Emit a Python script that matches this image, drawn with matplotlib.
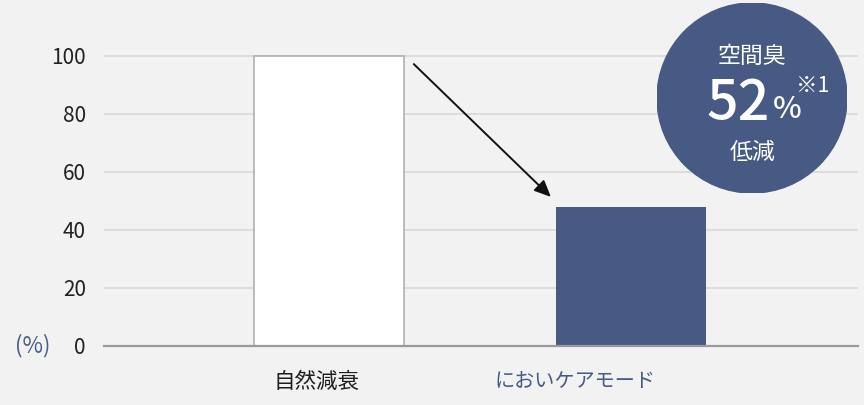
import matplotlib
matplotlib.use("Agg")
import matplotlib.pyplot as plt
from matplotlib.patches import Circle

plt.rcParams['font.family'] = ['Noto Sans CJK JP', 'DejaVu Sans']

categories = ['自然減衰', 'においケアモード']
values = [100, 48]
yticks = [0, 20, 40, 60, 80, 100]
badge_top = '空間臭'
badge_value = '52'
badge_unit = '%'
badge_note = '※1'
badge_bottom = '低減'

BG = '#f2f2f2'
NAVY = '#475a83'

fig = plt.figure(figsize=(8.64, 4.05), dpi=100, facecolor=BG)
ax = fig.add_axes([104/864, 59/405, 754/864, 346/405])
ax.set_facecolor(BG)

x = list(range(len(categories)))
ax.bar(x[0], values[0], width=0.497, color='white', edgecolor='#b0b0b0', linewidth=1.2, zorder=3)
ax.bar(x[1], values[1], width=0.497, color=NAVY, edgecolor=NAVY, linewidth=0, zorder=3)

ax.set_xlim(-0.745, 1.752)
ax.set_ylim(0, 119.3)
ax.set_yticks(yticks)
ax.set_yticklabels([str(t) for t in yticks], fontsize=15, color='#222222')
ax.tick_params(axis='y', length=0, pad=13)
ax.yaxis.grid(True, color='#d6d6d6', linewidth=1.1, zorder=0)
ax.set_axisbelow(True)
for s in ['top', 'right', 'left']:
    ax.spines[s].set_visible(False)
ax.spines['bottom'].set_color('#9a9a9a')
ax.spines['bottom'].set_linewidth(1.6)
ax.spines['bottom'].set_zorder(4)
ax.set_xticks([])

# category labels
label_colors = ['#1e1e1e', NAVY]
label_sizes = [15.5, 14.5]
label_x = [-0.04, 0.815]
for lx, lab, c, fs in zip(label_x, categories, label_colors, label_sizes):
    ax.text(lx, -12.4, lab, ha='center', va='center', fontsize=fs, color=c,
            transform=ax.transData, clip_on=False)

ax.text(-0.924, 0, '(%)', ha='right', va='center', fontsize=16, color='#4a5f8e', clip_on=False)

# arrow
ax.annotate('', xy=(0.735, 51.4), xytext=(0.281, 97.2),
            arrowprops=dict(arrowstyle='-|>,head_length=1.0,head_width=0.45', color='#111111',
                            linewidth=1.4, shrinkA=0, shrinkB=0), zorder=5)

# badge
cx, cy, r = 752, 98, 95
bax = fig.add_axes([(cx - r)/864, (405 - cy - r)/405, 2*r/864, 2*r/405])
bax.set_xlim(-1, 1)
bax.set_ylim(-1, 1)
bax.axis('off')
bax.add_patch(Circle((0, 0), 1, color=NAVY))
def px(xp, yp):
    return ((xp - cx)/r, (cy - yp)/r)
bax.text(*px(752, 56), badge_top, ha='center', va='center', fontsize=16.5, color='white')
bax.text(*px(738, 104), badge_value, ha='center', va='center', fontsize=40, color='white', fontweight='medium')
bax.text(*px(787, 110), badge_unit, ha='center', va='center', fontsize=22, color='white', fontweight='medium')
bax.text(*px(813, 86), badge_note, ha='center', va='center', fontsize=15.5, color='white')
bax.text(*px(753, 152), badge_bottom, ha='center', va='center', fontsize=16.5, color='white')

fig.savefig('out.png', dpi=100, facecolor=BG)
